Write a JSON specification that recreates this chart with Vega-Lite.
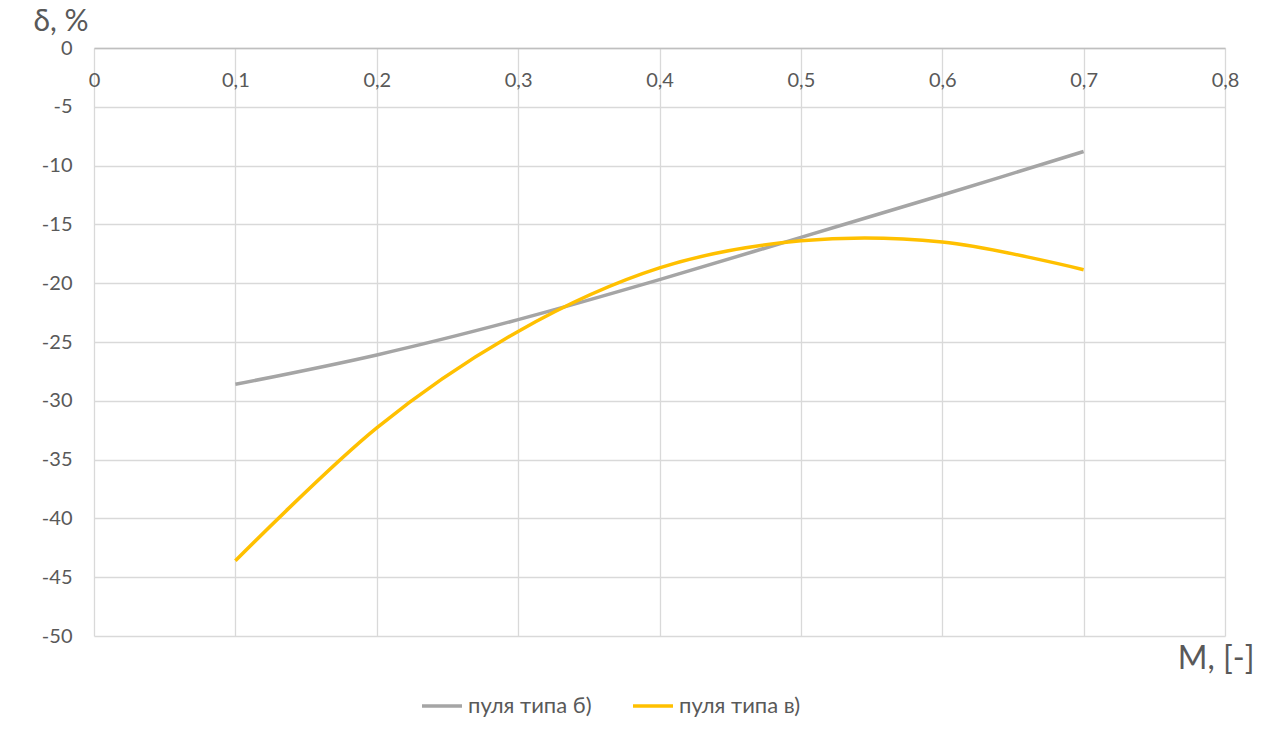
{
  "$schema": "https://vega.github.io/schema/vega-lite/v6.json",
  "width": 1131,
  "height": 588,
  "autosize": "none",
  "padding": {"left": 94, "top": 48, "right": 49, "bottom": 100},
  "background": "white",
  "config": {
    "view": {"stroke": null},
    "font": "Lato",
    "axis": {
      "labelFont": "Lato",
      "titleFont": "Lato",
      "labelColor": "#595959",
      "titleColor": "#595959",
      "gridColor": "#d9d9d9",
      "gridWidth": 1.3,
      "ticks": false,
      "labelFontSize": 20
    }
  },
  "data": {
    "values": [
      {"M": 0.1, "d": -28.6, "s": "пуля типа б)"},
      {"M": 0.2, "d": -26.1, "s": "пуля типа б)"},
      {"M": 0.3, "d": -23.1, "s": "пуля типа б)"},
      {"M": 0.4, "d": -19.7, "s": "пуля типа б)"},
      {"M": 0.5, "d": -16.1, "s": "пуля типа б)"},
      {"M": 0.6, "d": -12.5, "s": "пуля типа б)"},
      {"M": 0.7, "d": -8.8, "s": "пуля типа б)"},
      {"M": 0.1, "d": -43.6, "s": "пуля типа в)"},
      {"M": 0.2, "d": -32.3, "s": "пуля типа в)"},
      {"M": 0.3, "d": -24.1, "s": "пуля типа в)"},
      {"M": 0.4, "d": -18.7, "s": "пуля типа в)"},
      {"M": 0.5, "d": -16.4, "s": "пуля типа в)"},
      {"M": 0.6, "d": -16.5, "s": "пуля типа в)"},
      {"M": 0.7, "d": -18.85, "s": "пуля типа в)"}
    ]
  },
  "mark": {"type": "line", "strokeWidth": 3.5, "interpolate": "cardinal", "tension": 0},
  "encoding": {
    "x": {
      "field": "M",
      "type": "quantitative",
      "scale": {"domain": [0, 0.8], "nice": false},
      "axis": {
        "orient": "top",
        "values": [0, 0.1, 0.2, 0.3, 0.4, 0.5, 0.6, 0.7, 0.8],
        "labelExpr": "replace(format(datum.value, '.1~f'), '.', ',')",
        "labelFlush": false,
        "labelBaseline": "top",
        "labelPadding": -22,
        "domainColor": "#bfbfbf",
        "domainWidth": 1.3,
        "title": "M, [-]",
        "titleFontSize": 32,
        "titleFontWeight": "normal",
        "titleAnchor": "end",
        "titleAlign": "right",
        "titleBaseline": "middle",
        "titleX": 1160,
        "titleY": 610
      }
    },
    "y": {
      "field": "d",
      "type": "quantitative",
      "scale": {"domain": [-50, 0], "nice": false},
      "axis": {
        "values": [0, -5, -10, -15, -20, -25, -30, -35, -40, -45, -50],
        "labelExpr": "'' + datum.value",
        "labelPadding": 22,
        "domain": false,
        "title": "δ, %",
        "titleAngle": 0,
        "titleFontSize": 30,
        "titleFontWeight": "normal",
        "titleAlign": "left",
        "titleBaseline": "middle",
        "titleX": -61,
        "titleY": -27
      }
    },
    "color": {
      "field": "s",
      "type": "nominal",
      "scale": {"domain": ["пуля типа б)", "пуля типа в)"], "range": ["#a5a5a5", "#ffc000"]},
      "legend": {
        "orient": "none",
        "legendX": 326,
        "legendY": 636,
        "direction": "horizontal",
        "title": null,
        "symbolType": "stroke",
        "symbolStrokeWidth": 3.5,
        "symbolSize": 1600,
        "labelFontSize": 22,
        "labelColor": "#595959",
        "labelFont": "Lato",
        "labelOffset": 4,
        "columnPadding": 34
      }
    }
  }
}
